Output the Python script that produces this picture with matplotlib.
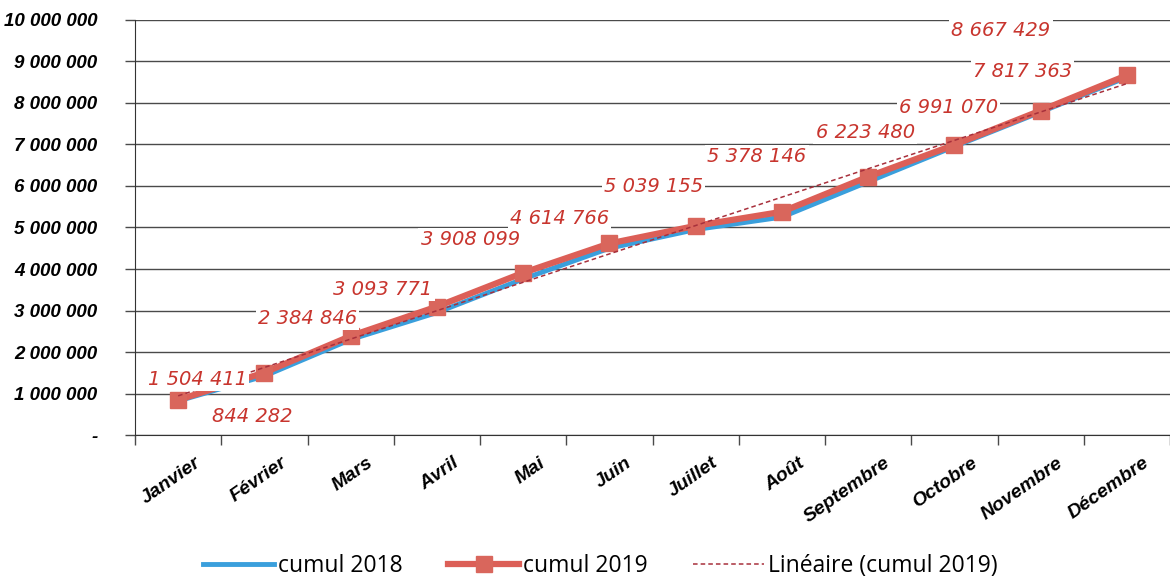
import numpy as np
import matplotlib
matplotlib.use("Agg")
import matplotlib.pyplot as plt
import matplotlib.transforms as mtransforms

months = ["Janvier", "Février", "Mars", "Avril", "Mai", "Juin", "Juillet",
          "Août", "Septembre", "Octobre", "Novembre", "Décembre"]

cumul_2018 = [820000, 1420000, 2300000, 2950000, 3760000, 4500000,
              4950000, 5250000, 6100000, 6950000, 7780000, 8620000]

cumul_2019 = [844282, 1504411, 2384846, 3093771, 3908099, 4614766,
              5039155, 5378146, 6223480, 6991070, 7817363, 8667429]

y_ticks = [0, 1000000, 2000000, 3000000, 4000000, 5000000,
           6000000, 7000000, 8000000, 9000000, 10000000]

# label offsets (pixels) from each 2019 point
label_offsets = [(74, -17), (-67, -7), (-43, 18), (-54, 17), (-53, 33), (-50, 25),
                 (-42, 39), (-25, 55), (-3, 44), (-6, 37), (-18, 39), (-126, 45)]


def fmt(v):
    return f"{v:,}".replace(",", " ")


fig = plt.figure(figsize=(11.7, 5.84), dpi=100)
ax = fig.add_axes([0.1154, 0.2551, 0.8846, 0.7107])

x = np.arange(len(months))

ax.plot(x, cumul_2018, color="#3a9fdc", lw=3.5, zorder=3, label="cumul 2018")
ax.plot(x, cumul_2019, color="#dc5f57", lw=4.5, marker="s", ms=11,
        markerfacecolor="#d9665c", markeredgecolor="#d9665c", zorder=4,
        label="cumul 2019")

coef = np.polyfit(x, cumul_2019, 1)
ax.plot(x, np.polyval(coef, x), color="#a8303c", lw=1.1, ls=(0, (3, 2)),
        zorder=5, label="Linéaire (cumul 2019)")

for xi, v, (dx, dy) in zip(x, cumul_2019, label_offsets):
    ax.annotate(fmt(v), (xi, v), xytext=(dx, dy), textcoords="offset pixels",
                ha="center", va="center", color="#c8352e", fontsize=14,
                style="italic", family="DejaVu Sans", zorder=6,
                bbox=dict(facecolor="white", edgecolor="none", pad=1.5))

ax.set_xlim(-0.5, 11.5)
ax.set_ylim(0, 10000000)

ax.set_yticks(y_ticks)
ax.set_yticklabels(["-" if t == 0 else fmt(t) for t in y_ticks],
                   fontsize=13.5, fontweight="bold", style="italic",
                   family="Liberation Sans")
ax.yaxis.grid(True, color="#4a4a4a", lw=1.0)
ax.set_axisbelow(True)
ax.tick_params(axis="y", length=7, width=1, color="#4a4a4a", pad=20)

ax.set_xticks(np.arange(-0.5, 12, 1))
ax.set_xticklabels([])
ax.set_xticks(x, minor=True)
ax.set_xticklabels(months, minor=True, rotation=35, ha="right", va="top",
                   rotation_mode="anchor",
                   fontsize=14, fontweight="bold", style="italic",
                   family="Liberation Sans")
ax.tick_params(axis="x", which="major", length=7, width=1, color="#4a4a4a")
ax.tick_params(axis="x", which="minor", length=0, pad=14)
shift = mtransforms.ScaledTranslation(0.16, 0, fig.dpi_scale_trans)
for lbl in ax.get_xticklabels(minor=True):
    lbl.set_transform(lbl.get_transform() + shift)

for side in ["top", "right"]:
    ax.spines[side].set_visible(False)
ax.spines["left"].set_color("#333333")
ax.spines["bottom"].set_color("#333333")

fig.legend(loc="lower center", bbox_to_anchor=(0.513, -0.025), ncol=3,
           frameon=False, handlelength=3.1, handletextpad=0.15,
           columnspacing=2.0, prop={"family": "Open Sans", "size": 16.5})

fig.savefig("out.png", dpi=100)
